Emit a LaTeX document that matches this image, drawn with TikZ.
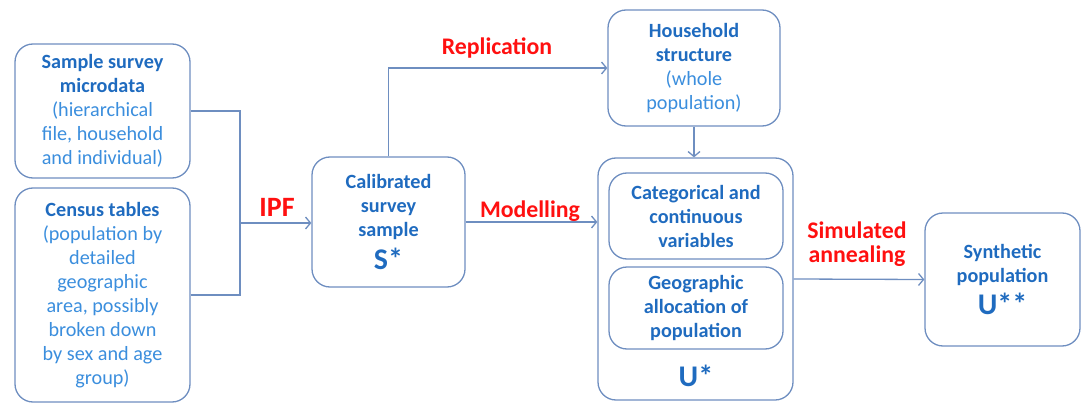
\documentclass[tikz,border=0pt]{standalone}
\usepackage{fontspec}
\setmainfont{Carlito}
\usetikzlibrary{arrows.meta}
\definecolor{bordc}{HTML}{6E8EC0}
\definecolor{titc}{HTML}{1F6BBF}
\definecolor{txtc}{HTML}{3B8EDD}
\definecolor{redc}{HTML}{FF1010}
\newcommand{\tit}[1]{\textcolor{titc}{\bfseries #1}}
\newcommand{\bigsym}[1]{{\color{titc}\bfseries\fontsize{30}{30}\selectfont #1}}
\begin{document}
\begin{tikzpicture}[x=1pt,y=-1pt,
  box/.style={draw=bordc, line width=1.3pt, rounded corners=18pt, align=center,
    inner sep=0pt, text=txtc, font=\fontsize{20.2}{24}\selectfont},
  conn/.style={draw=bordc, line width=1.3pt},
  arr/.style={conn, -{Straight Barb[length=5pt,width=12pt]}},
  lab/.style={text=redc, font=\bfseries\fontsize{23.8}{24}\selectfont, align=center, inner sep=0pt}]
\useasboundingbox (0,0) rectangle (1082,420);

\node[box, minimum width=175pt, minimum height=134pt] (sample) at (102.5,111)
  {\tit{Sample survey}\\ \tit{microdata}\\ (hierarchical\\ file, household\\ and individual)};
\node[box, minimum width=175pt, minimum height=214pt] (census) at (102.5,295)
  {\tit{Census tables}\\ (population by\\ detailed\\ geographic\\ area, possibly\\ broken down\\ by sex and age\\ group)};
\node[box, minimum width=153pt, minimum height=130pt] (calib) at (388.5,222)
  {\tit{Calibrated}\\ \tit{survey}\\ \tit{sample}\\[8pt] \bigsym{S*}};
\node[box, minimum width=172pt, minimum height=116pt] (house) at (694,68)
  {\tit{Household}\\ \tit{structure}\\ (whole\\ population)};
\node[box, minimum width=195pt, minimum height=242pt] (ustar) at (695.5,279) {};
\node[box, minimum width=174pt, minimum height=86pt] (cat) at (696,216)
  {\tit{Categorical and}\\ \tit{continuous}\\ \tit{variables}};
\node[box, minimum width=174pt, minimum height=82pt] (geo) at (696,308)
  {\tit{Geographic}\\ \tit{allocation of}\\ \tit{population}};
\node[inner sep=0pt] (ulab) at (696,376) {\bigsym{U*}};
\node[box, minimum width=155pt, minimum height=133pt] (synth) at (1002.5,279.5)
  {\tit{Synthetic}\\ \tit{population}\\[6pt] \bigsym{U**}};

\coordinate (j) at (240,223);
\draw[conn] (sample.east) -| (j);
\draw[conn] (census.east) -| (j);
\draw[arr] (j) -- (j -| calib.west);
\draw[arr] (calib.north) |- (house.west);
\draw[arr] (house.south) -- (house.south |- ustar.north);
\draw[arr] (calib.east) -- (calib.east -| ustar.west);
\draw[arr] (ustar.east) -- (synth.west);

\node[lab, font=\bfseries\fontsize{28}{28}\selectfont] (ipf) at (277,207) {IPF};
\node[lab] (repl) at (497,48) {Replication};
\node[lab] (model) at (530,211) {Modelling};
\node[lab] (sim) at (857,244) {Simulated\\ annealing};
\end{tikzpicture}
\end{document}
